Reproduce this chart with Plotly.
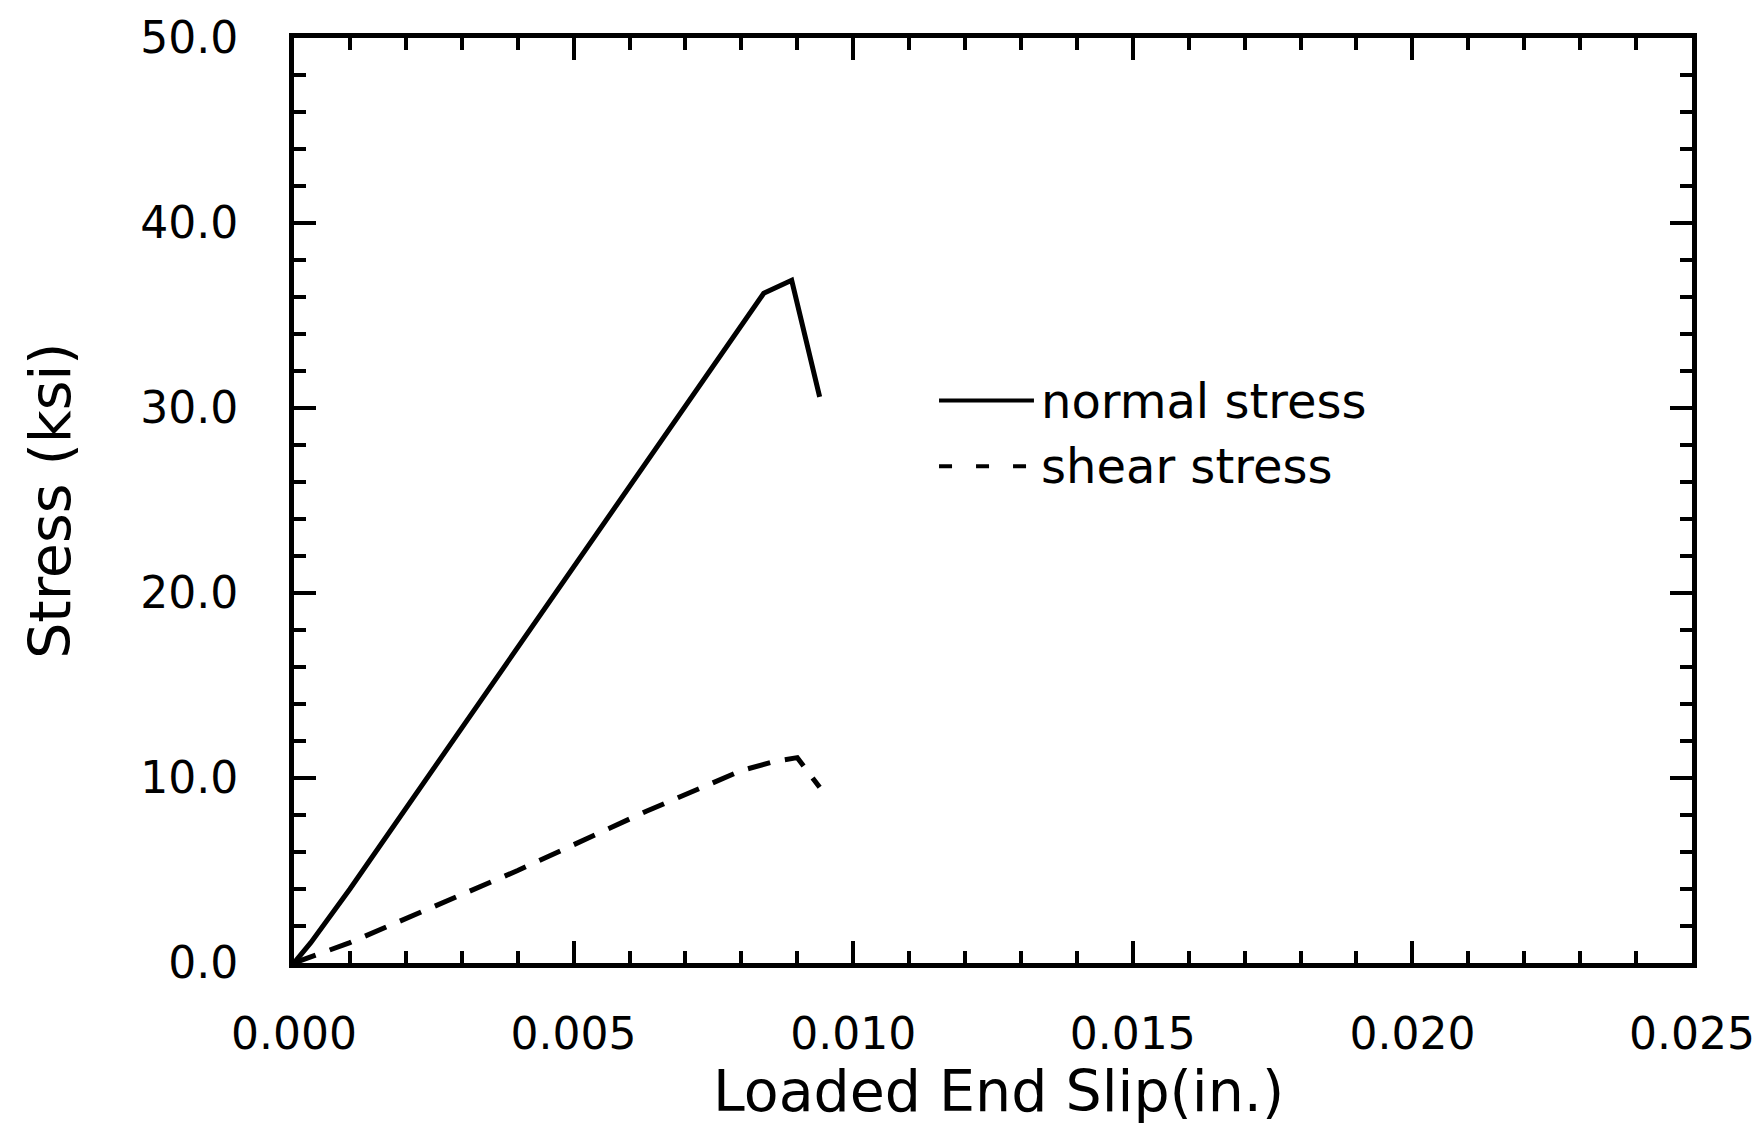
import plotly.graph_objects as go

# ---- data ----
normal_x = [0.0, 0.0003, 0.0010, 0.0084, 0.0089, 0.0094]
normal_y = [0.0, 1.1, 4.0, 36.2, 36.9, 30.6]

shear_x = [0.0, 0.0010, 0.0040, 0.0063, 0.0080, 0.0086, 0.0090, 0.0094]
shear_y = [0.0, 1.1, 5.0, 8.2, 10.4, 10.9, 11.1, 9.5]

x_ticks = [0.000, 0.005, 0.010, 0.015, 0.020, 0.025]
y_ticks = [0.0, 10.0, 20.0, 30.0, 40.0, 50.0]

legend_names = ["normal stress", "shear stress"]
x_title = "Loaded End Slip(in.)"
y_title = "Stress (ksi)"

TICK_FONT = dict(family="DejaVu Sans", size=44, color="black")
TITLE_FONT = dict(family="DejaVu Sans", size=57, color="black")
LEG_FONT = dict(family="DejaVu Sans", size=48, color="black")

fig = go.Figure()
fig.add_trace(go.Scatter(x=normal_x, y=normal_y, mode="lines", name=legend_names[0],
                         line=dict(color="black", width=5), showlegend=False))
fig.add_trace(go.Scatter(x=shear_x, y=shear_y, mode="lines", name=legend_names[1],
                         line=dict(color="black", width=5, dash="23px,15px"), showlegend=False))

axis_common = dict(
    showline=True, linecolor="black", linewidth=5, mirror="ticks",
    ticks="inside", tickcolor="black", tickwidth=4, ticklen=22,
    showgrid=False, zeroline=False, tickfont=TICK_FONT, automargin=False,
)

fig.update_xaxes(
    range=[0, 0.025], tickvals=x_ticks, ticktext=[f"{v:.3f}" for v in x_ticks],
    minor=dict(dtick=0.001, ticks="inside", ticklen=12, tickwidth=4, tickcolor="black"),
    ticklabelstandoff=28,
    **axis_common,
)
fig.update_yaxes(
    range=[0, 50], tickvals=y_ticks, ticktext=[f"{v:.1f}" for v in y_ticks],
    minor=dict(dtick=2, ticks="inside", ticklen=12, tickwidth=4, tickcolor="black"),
    ticklabelstandoff=42,
    **axis_common,
)

# axis titles
fig.add_annotation(xref="paper", yref="paper", x=0.504, y=-0.1385, text=x_title, showarrow=False,
                   xanchor="center", yanchor="middle", font=TITLE_FONT)
fig.add_annotation(xref="paper", yref="paper", x=-0.175, y=0.5, text=y_title, showarrow=False,
                   xanchor="center", yanchor="middle", textangle=-90, font=TITLE_FONT)

# legend drawn as line samples + text, in plot-area (paper) coordinates
legend_rows = [(0.608, "solid"), (0.537, "13px,24px")]
for (yy, dash), name in zip(legend_rows, legend_names):
    fig.add_shape(type="line", xref="paper", yref="paper", x0=0.4614, x1=0.5293, y0=yy, y1=yy,
                  line=dict(color="black", width=4, dash=dash))
    fig.add_annotation(xref="paper", yref="paper", x=0.533, y=yy, text=name, showarrow=False,
                       xanchor="left", yanchor="middle", font=LEG_FONT)

fig.update_layout(
    width=1762, height=1130,
    margin=dict(l=286, r=78, t=30, b=175, autoexpand=False),
    paper_bgcolor="white", plot_bgcolor="white",
    showlegend=False,
)

fig.write_html("out.html")
